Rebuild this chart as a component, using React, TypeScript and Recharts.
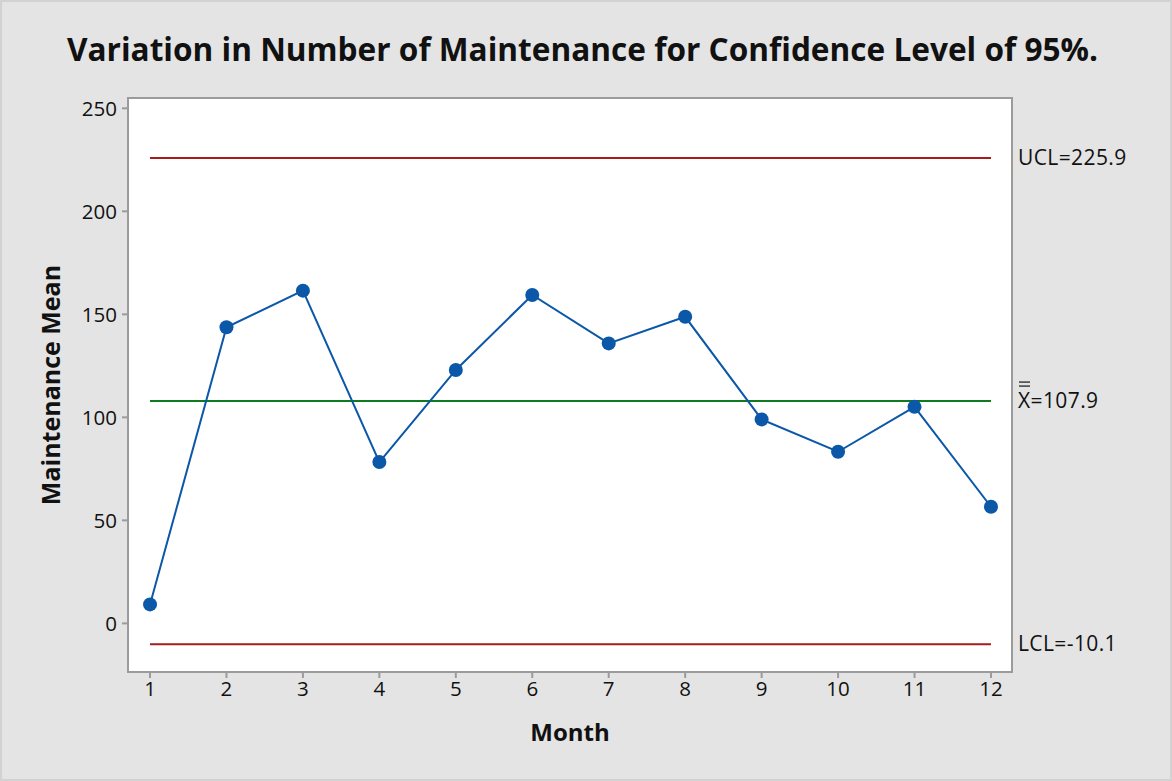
import React from 'react';
import {
  LineChart, Line, XAxis, YAxis,
} from 'recharts';

const months = [1, 2, 3, 4, 5, 6, 7, 8, 9, 10, 11, 12];
const means = [9.2, 143.7, 161.5, 78.3, 123.0, 159.4, 135.9, 148.8, 99.0, 83.3, 105.1, 56.6];
const ucl = 225.9;
const centre = 107.9;
const lcl = -10.1;
const yTicks = [0, 50, 100, 150, 200, 250];

const FONT = '"Open Sans", "Noto Sans", sans-serif';
const AXIS_GREY = '#9b9b9b';

const data = months.map((m, i) => ({ month: m, mean: means[i], ucl, centre, lcl }));

// text to the right of the last point of a limit line
function limitLabel(text: string, bar = false) {
  return (props: any) => {
    if (props.index !== months.length - 1) return null;
    const x = props.x + 27;
    const y = props.y + 7;
    return (
      <g>
        {bar && (
          <g stroke="#222" strokeWidth={1.3}>
            <line x1={x + 1} x2={x + 12} y1={y - 26} y2={y - 26} />
            <line x1={x + 1} x2={x + 12} y1={y - 22} y2={y - 22} />
          </g>
        )}
        <text x={x} y={y} fontFamily={FONT} fontSize={21} letterSpacing={0.4} fill="#111">{text}</text>
      </g>
    );
  };
}

export default function App(): React.ReactElement {
  return (
    <div style={{ position: 'relative', width: 1172, height: 781, background: '#e4e4e4', fontFamily: FONT }}>
      <style>{'body{margin:0}'}</style>
      <div style={{ position: 'absolute', inset: 0, border: '2px solid #d2d2d2', boxSizing: 'border-box', pointerEvents: 'none' }} />
      <div
        style={{
          position: 'absolute', top: 29, left: 0, width: 1165, textAlign: 'center',
          fontSize: 31.6, fontWeight: 700, color: '#111', lineHeight: '40px',
        }}
      >
        Variation in Number of Maintenance for Confidence Level of 95%.
      </div>
      <div style={{ position: 'absolute', top: 97, left: 127, width: 886, height: 576, background: '#fff', border: `2px solid ${AXIS_GREY}`, boxSizing: 'border-box' }} />
      <div style={{ position: 'absolute', top: 0, left: 0 }}>
        <LineChart width={1172} height={781} data={data} margin={{ top: 98, right: 160, bottom: 49, left: 48 }}>
          <XAxis
            dataKey="month"
            type="number"
            domain={[0.712, 12.275]}
            ticks={months}
            height={60}
            tick={{ fill: '#111', fontSize: 20.5, fontFamily: FONT }}
            tickSize={6}
            tickMargin={3}
            axisLine={{ stroke: AXIS_GREY, strokeWidth: 2 }}
            tickLine={{ stroke: AXIS_GREY, strokeWidth: 2 }}
            label={{ value: 'Month', position: 'insideBottom', offset: -9, fill: '#111', fontSize: 24, fontWeight: 700, fontFamily: FONT }}
          />
          <YAxis
            type="number"
            domain={[-23.6, 255]}
            ticks={yTicks}
            width={80}
            tick={{ fill: '#111', fontSize: 20.5, fontFamily: FONT }}
            tickSize={6}
            tickMargin={5}
            axisLine={{ stroke: AXIS_GREY, strokeWidth: 2 }}
            tickLine={{ stroke: AXIS_GREY, strokeWidth: 2 }}
            label={{ value: 'Maintenance Mean', angle: -90, position: 'insideLeft', offset: 3, style: { textAnchor: 'middle' }, fill: '#111', fontSize: 25, fontWeight: 700, fontFamily: FONT }}
          />
          <Line dataKey="ucl" stroke="#a51c1c" strokeWidth={2} dot={false} isAnimationActive={false} label={limitLabel('UCL=225.9')} />
          <Line dataKey="centre" stroke="#0f7a1f" strokeWidth={2} dot={false} isAnimationActive={false} label={limitLabel('X=107.9', true)} />
          <Line dataKey="lcl" stroke="#a51c1c" strokeWidth={2} dot={false} isAnimationActive={false} label={limitLabel('LCL=-10.1')} />
          <Line
            dataKey="mean"
            stroke="#0b57a8"
            strokeWidth={2}
            dot={{ r: 7, fill: '#0b57a8', stroke: '#0b57a8', strokeWidth: 0 }}
            isAnimationActive={false}
          />
        </LineChart>
      </div>
    </div>
  );
}
